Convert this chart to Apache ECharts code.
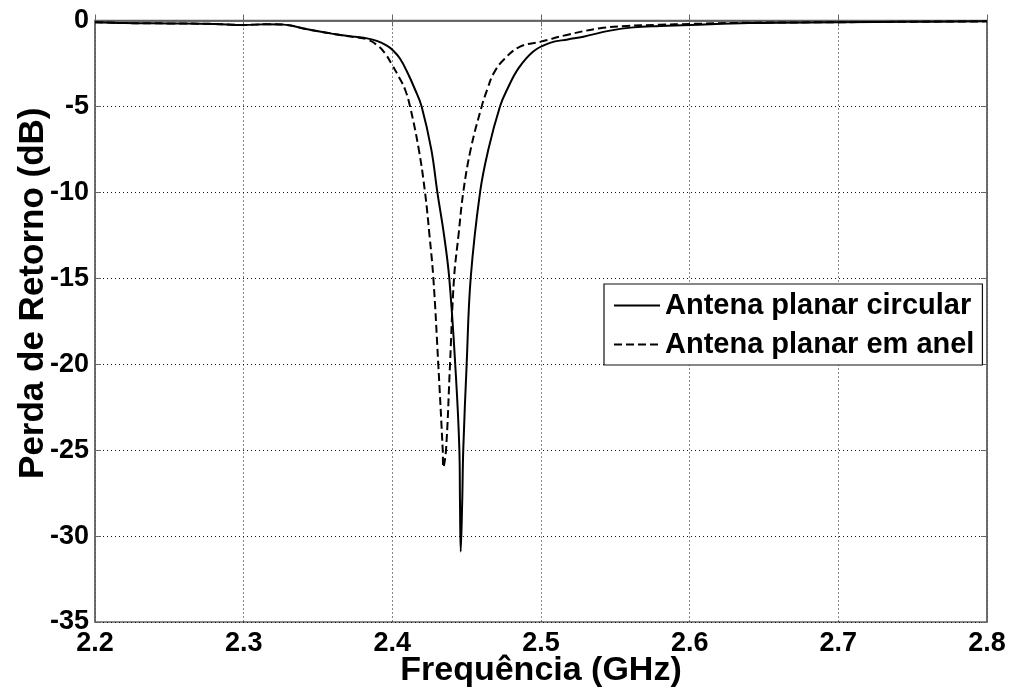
<!DOCTYPE html>
<html>
<head>
<meta charset="utf-8">
<script src="https://cdn.jsdelivr.net/npm/echarts@6/dist/echarts.min.js"></script>
<style>
html,body{margin:0;padding:0;background:#fff;}
#chart{width:1011px;height:691px;}
</style>
</head>
<body>
<div id="chart"></div>
<script>
const xTicks = [2.2, 2.3, 2.4, 2.5, 2.6, 2.7, 2.8];
const yTicks = [0, -5, -10, -15, -20, -25, -30, -35];

const freqCircular = [2.20, 2.22, 2.25, 2.28, 2.30, 2.315, 2.327, 2.342, 2.355, 2.365, 2.375, 2.383, 2.39, 2.396, 2.40, 2.405, 2.41, 2.4152, 2.4197, 2.4262, 2.4303, 2.4348, 2.4383, 2.4423, 2.4451, 2.4455, 2.446, 2.447, 2.4477, 2.45, 2.4527, 2.459, 2.4646, 2.4724, 2.4773, 2.4847, 2.4948, 2.506, 2.518, 2.5285, 2.5464, 2.562, 2.58, 2.60, 2.64, 2.70, 2.75, 2.80];
const s11Circular = [-0.10, -0.15, -0.17, -0.20, -0.26, -0.22, -0.24, -0.50, -0.70, -0.84, -0.95, -1.04, -1.2, -1.45, -1.7, -2.2, -3.0, -4.0, -5.0, -7.5, -10, -12.5, -15, -20, -25, -28, -30.9, -28, -25, -20, -15, -10, -7.5, -5.0, -4.0, -2.8, -1.8, -1.3, -1.1, -0.94, -0.59, -0.40, -0.32, -0.26, -0.15, -0.10, -0.08, -0.05];

const freqRing = [2.20, 2.22, 2.25, 2.28, 2.30, 2.315, 2.327, 2.342, 2.355, 2.365, 2.375, 2.383, 2.39, 2.395, 2.40, 2.4045, 2.4085, 2.4119, 2.4178, 2.422, 2.425, 2.4276, 2.4309, 2.4339, 2.4343, 2.4361, 2.4388, 2.4415, 2.4445, 2.4477, 2.4527, 2.4601, 2.4639, 2.468, 2.4747, 2.4859, 2.50, 2.5173, 2.5397, 2.5576, 2.58, 2.60, 2.64, 2.70, 2.75, 2.80];
const s11Ring = [-0.10, -0.15, -0.17, -0.20, -0.26, -0.22, -0.24, -0.50, -0.70, -0.84, -0.97, -1.1, -1.45, -1.9, -2.6, -3.3, -4.0, -5.0, -7.5, -10, -12.5, -15, -20, -25, -26.0, -25, -20, -15, -12.5, -10, -7.5, -5.0, -4.0, -3.1, -2.3, -1.52, -1.23, -0.84, -0.45, -0.32, -0.25, -0.20, -0.13, -0.10, -0.07, -0.05];

const seriesNames = ['Antena planar circular', 'Antena planar em anel'];
const xName = 'Frequência (GHz)';
const yName = 'Perda de Retorno (dB)';

const pairs = (xs, ys) => xs.map((x, i) => [x, ys[i]]);
const FONT = 'Liberation Sans, Arial, sans-serif';

const chart = echarts.init(document.getElementById('chart'), null, {renderer: 'canvas'});
const gridLine = {show: true, lineStyle: {color: '#111', type: [1, 3], width: 1}};
chart.setOption({
  backgroundColor: '#fff',
  animation: false,
  grid: {left: 95, right: 24, top: 20.5, bottom: 69, outerBoundsMode: 'none', containLabel: false,
    show: true, borderColor: '#666', borderWidth: 1.5, backgroundColor: 'transparent'},
  legend: {
    orient: 'vertical', left: 604, top: 284,
    padding: [7, 8, 6, 9], itemGap: 10, itemWidth: 46, itemHeight: 14,
    borderColor: '#111', borderWidth: 1.2, backgroundColor: '#fff',
    itemStyle: {opacity: 0},
    textStyle: {fontFamily: FONT, fontWeight: 'bold', fontSize: 29, color: '#000', lineHeight: 28},
    data: seriesNames
  },
  xAxis: [{
    type: 'value', min: xTicks[0], max: xTicks[xTicks.length - 1], interval: 0.1,
    name: xName, nameLocation: 'middle', nameGap: 32, nameMoveOverlap: false,
    nameTextStyle: {fontFamily: FONT, fontWeight: 'bold', fontSize: 34, color: '#000'},
    axisLine: {show: true, lineStyle: {color: '#666', width: 1.5}},
    axisTick: {show: true, inside: true, length: 6, lineStyle: {color: '#666'}},
    axisLabel: {fontFamily: FONT, fontWeight: 'bold', fontSize: 27, color: '#000', margin: 8,
      formatter: v => v.toFixed(1)},
    splitLine: gridLine
  }, {
    type: 'value', position: 'top', min: xTicks[0], max: xTicks[xTicks.length - 1], interval: 0.1,
    axisLine: {show: true, lineStyle: {color: '#666', width: 1.5}},
    axisTick: {show: true, inside: true, length: 6, lineStyle: {color: '#666'}},
    axisLabel: {show: false}, splitLine: {show: false}
  }],
  yAxis: [{
    type: 'value', min: yTicks[yTicks.length - 1], max: yTicks[0], interval: 5,
    name: yName, nameLocation: 'middle', nameGap: 44, nameRotate: 90, nameMoveOverlap: false,
    nameTextStyle: {fontFamily: FONT, fontWeight: 'bold', fontSize: 35, color: '#000', padding: [0, 0, 0, 56]},
    axisLine: {show: true, lineStyle: {color: '#666', width: 1.5}},
    axisTick: {show: true, inside: true, length: 6, lineStyle: {color: '#666'}},
    axisLabel: {fontFamily: FONT, fontWeight: 'bold', fontSize: 27, color: '#000', margin: 6},
    splitLine: gridLine
  }, {
    type: 'value', position: 'right', min: yTicks[yTicks.length - 1], max: yTicks[0], interval: 5,
    axisLine: {show: true, lineStyle: {color: '#666', width: 1.5}},
    axisTick: {show: true, inside: true, length: 6, lineStyle: {color: '#666'}},
    axisLabel: {show: false}, splitLine: {show: false}
  }],
  series: [{
    name: seriesNames[0], type: 'line', data: pairs(freqCircular, s11Circular),
    showSymbol: false, symbol: 'none', smooth: 0.4,
    lineStyle: {color: '#000', width: 2, type: 'solid'}, itemStyle: {color: '#000'}, z: 3
  }, {
    name: seriesNames[1], type: 'line', data: pairs(freqRing, s11Ring),
    showSymbol: false, symbol: 'none', smooth: 0.4,
    lineStyle: {color: '#000', width: 2, type: [8, 4]}, itemStyle: {color: '#000'}, z: 3
  }]
});
</script>
</body>
</html>
